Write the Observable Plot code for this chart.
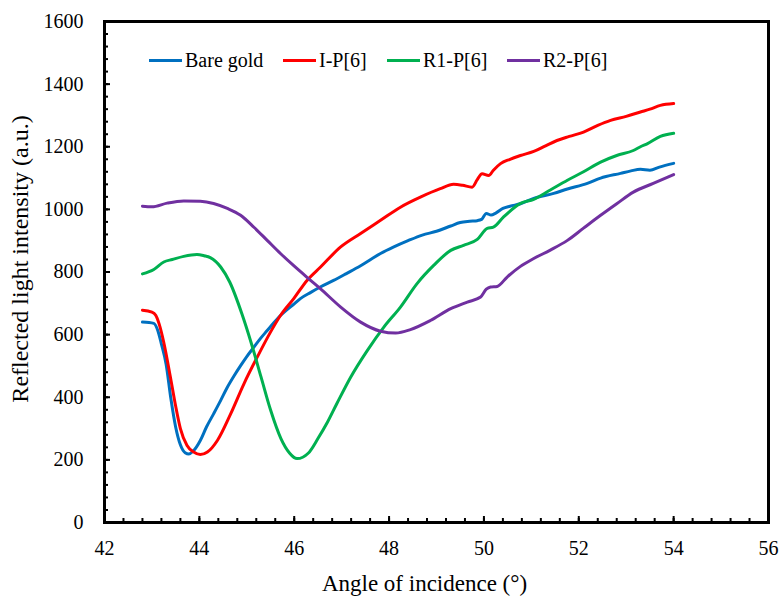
<!DOCTYPE html>
<html><head><meta charset="utf-8">
<script src="https://cdn.jsdelivr.net/npm/d3@7"></script>
<script src="https://cdn.jsdelivr.net/npm/@observablehq/plot@0.6"></script>
<style>
body{margin:0;background:#fff;}
#wrap{position:relative;width:781px;height:596px;font-family:"Liberation Serif","Tinos","Times New Roman","DejaVu Serif",serif;}
.leg{position:absolute;top:49px;height:22px;display:flex;align-items:center;font-size:20px;white-space:nowrap;color:#000;}
.sw{width:33px;height:3px;margin-right:3px;}
</style></head><body><div id="wrap"></div>
<script>
const seriesNames = ["Bare gold", "I-P[6]", "R1-P[6]", "R2-P[6]"];
const seriesColors = ["#0070C0", "#FF0000", "#00B050", "#7030A0"];

const bareX = [42.8, 43.04, 43.12, 43.2, 43.3, 43.4, 43.5, 43.6, 43.7, 43.78, 43.87, 44.02, 44.15, 44.3, 44.45, 44.59, 44.73, 44.87, 45.0, 45.15, 45.29, 45.43, 45.57, 45.71, 45.85, 46.0, 46.13, 46.35, 46.55, 46.83, 47.1, 47.4, 47.82, 48.1, 48.4, 48.7, 49.0, 49.3, 49.5, 49.7, 49.86, 49.95, 50.05, 50.15, 50.25, 50.4, 50.55, 50.77, 51.05, 51.47, 51.76, 52.18, 52.46, 52.88, 53.1, 53.3, 53.5, 53.7, 54.0];
const bareY = [640, 636, 615, 570, 505, 395, 305, 248, 223, 219, 228, 262, 305, 347, 390, 432, 468, 501, 530, 560, 588, 613, 638, 661, 680, 698, 715, 735, 752, 773, 795, 820, 859, 880, 900, 918, 930, 947, 958, 962, 964, 968, 987, 982, 988, 1003, 1010, 1018, 1035, 1051, 1065, 1083, 1100, 1115, 1123, 1128, 1125, 1135, 1147];

const redX = [42.8, 43.0, 43.08, 43.15, 43.25, 43.39, 43.5, 43.6, 43.74, 43.88, 44.02, 44.17, 44.38, 44.66, 44.94, 45.22, 45.5, 45.71, 45.99, 46.27, 46.55, 46.98, 47.4, 47.82, 48.24, 48.66, 49.08, 49.36, 49.55, 49.75, 49.86, 49.96, 50.1, 50.2, 50.35, 50.55, 50.77, 51.05, 51.3, 51.54, 51.8, 52.1, 52.4, 52.67, 53.0, 53.3, 53.5, 53.72, 54.0];
const redY = [678, 672, 662, 635, 575, 464, 372, 300, 246, 225, 217, 225, 262, 347, 443, 528, 608, 661, 715, 773, 815, 880, 923, 965, 1007, 1039, 1066, 1080, 1077, 1071, 1095, 1114, 1108, 1125, 1146, 1160, 1172, 1185, 1203, 1220, 1233, 1247, 1268, 1284, 1297, 1311, 1320, 1332, 1338];

const r1X = [42.8, 43.04, 43.25, 43.43, 43.67, 43.95, 44.1, 44.23, 44.45, 44.64, 44.9, 45.1, 45.3, 45.5, 45.72, 45.9, 46.06, 46.3, 46.5, 46.7, 46.9, 47.19, 47.54, 47.89, 48.24, 48.59, 48.94, 49.3, 49.57, 49.86, 50.07, 50.2, 50.41, 50.77, 51.05, 51.4, 51.76, 52.1, 52.46, 52.8, 53.15, 53.3, 53.45, 53.72, 54.0];
const r1Y = [794, 808, 832, 840, 850, 856, 852, 846, 816, 768, 665, 570, 465, 360, 268, 222, 204, 222, 268, 320, 380, 464, 549, 624, 688, 763, 821, 869, 885, 904, 939, 943, 975, 1019, 1032, 1062, 1093, 1120, 1151, 1172, 1188, 1200, 1210, 1233, 1243];

const r2X = [42.8, 43.0, 43.32, 43.67, 44.02, 44.3, 44.59, 44.87, 45.15, 45.43, 45.71, 45.99, 46.27, 46.55, 46.98, 47.4, 47.82, 48.14, 48.45, 48.87, 49.3, 49.65, 49.93, 50.05, 50.14, 50.28, 50.49, 50.77, 51.05, 51.4, 51.76, 52.1, 52.46, 52.8, 53.15, 53.57, 54.0];
const r2Y = [1010, 1008, 1020, 1027, 1026, 1019, 1003, 981, 943, 901, 859, 820, 783, 747, 688, 640, 611, 605, 616, 645, 683, 704, 720, 745, 752, 754, 784, 818, 843, 870, 901, 940, 981, 1018, 1055, 1083, 1111];

const xMajor = [42, 44, 46, 48, 50, 52, 54, 56];
const yMajor = [0, 200, 400, 600, 800, 1000, 1200, 1400, 1600];
const xMinor = d3.range(42, 55.81, 0.4);
const yMinor = d3.range(0, 1600.1, 40);
const xTitle = "Angle of incidence (°)";
const yTitle = "Reflected light intensity (a.u.)";

const seriesX = [bareX, redX, r1X, r2X];
const seriesY = [bareY, redY, r1Y, r2Y];
const rows = [];
seriesNames.forEach((s, i) => seriesX[i].forEach((x, j) => rows.push({series: s, x, y: seriesY[i][j]})));

const W = 781, H = 596, mL = 104, mR = 13, mT = 21, mB = 74;
const pw = W - mL - mR, ph = H - mT - mB;
const font = "'Liberation Serif', Tinos, 'Times New Roman', 'DejaVu Serif', serif";

const chart = Plot.plot({
  width: W, height: H,
  marginLeft: mL, marginRight: mR, marginTop: mT, marginBottom: mB,
  style: {fontFamily: font, fontSize: "20px", background: "white", color: "black"},
  x: {domain: [42, 56]},
  y: {domain: [0, 1600]},
  color: {domain: seriesNames, range: seriesColors},
  marks: [
    Plot.line(rows, {x: "x", y: "y", z: "series", stroke: "series", strokeWidth: 3, curve: "monotone-x"}),
    Plot.ruleX(xMinor, {stroke: "black", strokeWidth: 2, insetTop: ph - 4}),
    Plot.ruleX(xMajor, {stroke: "black", strokeWidth: 2, insetTop: ph - 6}),
    Plot.ruleY(yMinor, {stroke: "black", strokeWidth: 2, insetRight: pw - 4}),
    Plot.ruleY(yMajor, {stroke: "black", strokeWidth: 2, insetRight: pw - 6}),
    Plot.frame({stroke: "black", strokeWidth: 3}),
    Plot.axisX({ticks: xMajor, tickSize: 0, tickPadding: 18, label: null, fontSize: 20, fontFamily: font, tickFormat: d => String(d)}),
    Plot.axisY({ticks: yMajor, tickSize: 0, tickPadding: 21, label: null, fontSize: 20, fontFamily: font, tickFormat: d => String(d)}),
    Plot.text([xTitle], {text: d => d, frameAnchor: "bottom", textAnchor: "middle", dx: -12, dy: 61, lineAnchor: "middle", fontSize: 23, fontFamily: font}),
    Plot.text([yTitle], {text: d => d, frameAnchor: "left", textAnchor: "middle", dx: -84, dy: -13, rotate: -90, lineAnchor: "middle", fontSize: 24, fontFamily: font})
  ]
});
const wrap = document.getElementById("wrap");
wrap.appendChild(chart);

const legLeft = [149, 283, 387, 507];
seriesNames.forEach((s, i) => {
  const d = document.createElement("div");
  d.className = "leg";
  d.style.left = legLeft[i] + "px";
  const sw = document.createElement("span");
  sw.className = "sw";
  sw.style.background = seriesColors[i];
  const t = document.createElement("span");
  t.textContent = s;
  d.appendChild(sw); d.appendChild(t);
  wrap.appendChild(d);
});
</script></body></html>
